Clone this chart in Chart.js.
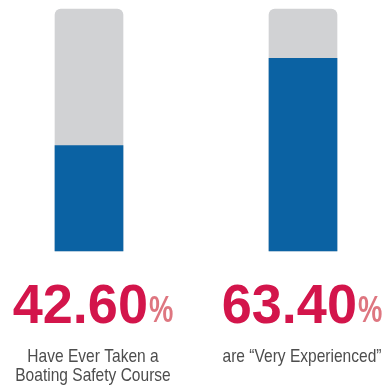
<!DOCTYPE html>
<html lang="en">
<head>
  <meta charset="UTF-8">
  <title>Boating Survey</title>
  <script src="https://cdn.jsdelivr.net/npm/chart.js"></script>
  <style>
    html, body {
      margin: 0;
      padding: 0;
      background: #fff;
    }
    canvas {
      display: block;
    }
  </style>
</head>
<body>
  <canvas id="surveyChart" width="390" height="385"></canvas>

  <script>
    // values
    const categories = ['Have Ever Taken a\nBoating Safety Course', 'are \u201cVery Experienced\u201d'];
    const pctLabels = ['42.60', '63.40'];
    const fillValues = [43.6, 79.6];   // blue fill height, % of the track
    const trackValues = [100, 100];

    const BLUE = '#0b62a3';
    const GRAY = '#d1d2d4';
    const RED = '#d3154b';
    const PINK = '#de7680';
    const TEXT = '#4d4d4d';

    // nudge of the text block relative to its bar centre
    const textNudge = [4, -1];

    const labelsPlugin = {
      id: 'bigLabels',
      afterDraw(chart) {
        const ctx = chart.ctx;
        const meta = chart.getDatasetMeta(0);
        meta.data.forEach((bar, i) => {
          const cx = bar.x + textNudge[i];
          ctx.save();
          ctx.textBaseline = 'alphabetic';
          ctx.textAlign = 'left';

          // big number + small percent sign
          const numFont = 'bold 56px "Liberation Sans", Arial, sans-serif';
          const pctFont = 'bold 36px "Liberation Sans", Arial, sans-serif';
          const numScale = 0.965, pctScale = 0.76, gap = 1;
          ctx.font = numFont;
          const numW = ctx.measureText(pctLabels[i]).width * numScale;
          ctx.font = pctFont;
          const pctW = ctx.measureText('%').width * pctScale;
          const startX = cx - (numW + gap + pctW) / 2;

          ctx.save();
          ctx.translate(startX, 323);
          ctx.scale(numScale, 1);
          ctx.font = numFont;
          ctx.fillStyle = RED;
          ctx.fillText(pctLabels[i], 0, 0);
          ctx.restore();

          ctx.save();
          ctx.translate(startX + numW + gap, 322);
          ctx.scale(pctScale, 1);
          ctx.font = pctFont;
          ctx.fillStyle = PINK;
          ctx.fillText('%', 0, 0);
          ctx.restore();

          // caption lines
          ctx.font = '18.5px "Liberation Sans", Arial, sans-serif';
          ctx.fillStyle = TEXT;
          ctx.textAlign = 'center';
          categories[i].split('\n').forEach((line, j) => {
            ctx.save();
            ctx.translate(cx, 361.5 + j * 19);
            ctx.scale(0.84, 1);
            ctx.fillText(line, 0, 0);
            ctx.restore();
          });
          ctx.restore();
        });
      }
    };

    new Chart(document.getElementById('surveyChart').getContext('2d'), {
      type: 'bar',
      data: {
        labels: categories,
        datasets: [
          {
            label: 'Share',
            data: fillValues,
            backgroundColor: BLUE,
            borderWidth: 0,
            grouped: false,
            order: 0,
            clip: false
          },
          {
            label: 'Track',
            data: trackValues,
            backgroundColor: GRAY,
            borderWidth: 0,
            borderRadius: { topLeft: 6, topRight: 6, bottomLeft: 0, bottomRight: 0 },
            borderSkipped: false,
            grouped: false,
            order: 1,
            clip: false
          }
        ]
      },
      options: {
        responsive: false,
        animation: false,
        devicePixelRatio: 1,
        barThickness: 68,
        layout: {
          padding: { left: 89, right: 87, top: 9, bottom: 134 }
        },
        scales: {
          x: { display: false, offset: false },
          y: { display: false, min: 0, max: 100 }
        },
        plugins: {
          legend: { display: false },
          tooltip: { enabled: false }
        }
      },
      plugins: [labelsPlugin]
    });
  </script>
</body>
</html>
